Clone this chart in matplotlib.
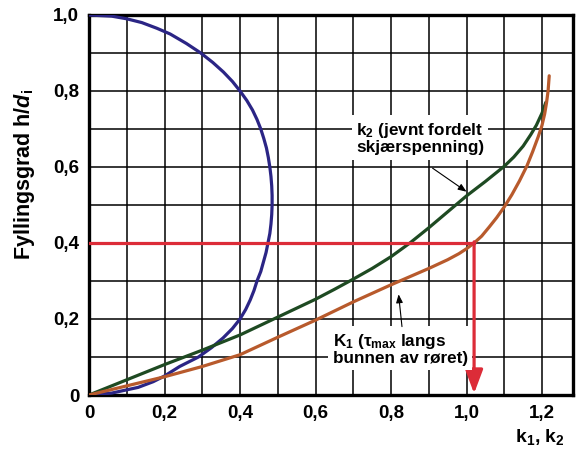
import matplotlib
matplotlib.use('Agg')
import matplotlib.pyplot as plt
from matplotlib.ticker import FuncFormatter, MultipleLocator

plt.rcParams['font.family'] = ['Liberation Sans', 'DejaVu Sans']
plt.rcParams['font.weight'] = 'bold'
plt.rcParams['mathtext.fontset'] = 'custom'
plt.rcParams['mathtext.rm'] = 'Liberation Sans:bold'
plt.rcParams['mathtext.it'] = 'Liberation Sans:italic:bold'
plt.rcParams['mathtext.bf'] = 'Liberation Sans:bold'

# blue curve (x, h)
blue_h = [0, 0.005, 0.02, 0.035, 0.05, 0.075, 0.1, 0.125, 0.15, 0.175, 0.2, 0.225, 0.25, 0.275,
          0.3, 0.325, 0.35, 0.375, 0.4, 0.425, 0.45, 0.475, 0.5, 0.525, 0.55, 0.575, 0.6, 0.625,
          0.65, 0.675, 0.7, 0.725, 0.75, 0.775, 0.8, 0.825, 0.85, 0.875, 0.9, 0.925, 0.95, 0.965,
          0.98, 0.99, 0.997, 1.0]
blue_x = [0, 0.06, 0.13, 0.17, 0.2, 0.24, 0.29, 0.325, 0.355, 0.38, 0.40, 0.415, 0.427, 0.437,
          0.445, 0.455, 0.462, 0.469, 0.474, 0.479, 0.482, 0.484, 0.485, 0.485, 0.484, 0.482, 0.479, 0.475,
          0.47, 0.463, 0.455, 0.445, 0.433, 0.418, 0.40, 0.38, 0.356, 0.328, 0.296, 0.258, 0.215, 0.18,
          0.14, 0.10, 0.06, 0]

# k2 (green)
k2_x = [0, 0.1, 0.2, 0.3, 0.4, 0.5, 0.6, 0.65, 0.7, 0.75, 0.8, 0.85, 0.9, 0.95, 1.0, 1.05, 1.1,
        1.125, 1.15, 1.17, 1.185, 1.2, 1.21]
k2_h = [0, 0.04, 0.08, 0.118, 0.158, 0.205, 0.252, 0.278, 0.305, 0.333, 0.364, 0.40, 0.44, 0.482, 0.524,
        0.562, 0.602, 0.626, 0.655, 0.685, 0.71, 0.742, 0.77]

# k1 (brown)
k1_x = [0, 0.1, 0.2, 0.3, 0.4, 0.5, 0.6, 0.7, 0.8, 0.9, 0.95, 0.98, 1.0, 1.02, 1.04, 1.06, 1.08,
        1.1, 1.12, 1.14, 1.16, 1.175, 1.19, 1.2, 1.207, 1.212, 1.216, 1.219]
k1_h = [0, 0.024, 0.048, 0.075, 0.106, 0.152, 0.197, 0.245, 0.29, 0.333, 0.356, 0.372, 0.385, 0.4,
        0.418, 0.442, 0.467, 0.495, 0.527, 0.563, 0.603, 0.64, 0.68, 0.71, 0.74, 0.77, 0.8, 0.84]

h_ref = 0.4
k_ref = 1.02

fig = plt.figure(figsize=(5.78, 4.53), dpi=100)
ax = fig.add_axes([89/578, 1-395/453, (573-89)/578, (395-15)/453])

ax.set_xlim(0, 1.282)
ax.set_ylim(0, 1.0)
ax.xaxis.set_major_locator(MultipleLocator(0.2))
ax.xaxis.set_minor_locator(MultipleLocator(0.1))
ax.yaxis.set_major_locator(MultipleLocator(0.2))
ax.yaxis.set_minor_locator(MultipleLocator(0.1))
ax.grid(True, which='both', color='black', linewidth=1.1)
ax.set_axisbelow(True)

fmt = FuncFormatter(lambda v, p: '0' if abs(v) < 1e-9 else ('%.1f' % v).replace('.', ','))
ax.xaxis.set_major_formatter(fmt)
ax.yaxis.set_major_formatter(fmt)
ax.tick_params(which='both', length=0, labelsize=13.5, pad=7)
for s in ax.spines.values():
    s.set_linewidth(2.4)
    s.set_color('black')

ax.plot(blue_x, blue_h, color='#2b2585', lw=2.3, solid_capstyle='round', zorder=3)
ax.plot(k2_x, k2_h, color='#1e4a22', lw=2.3, solid_capstyle='round', zorder=3)
ax.plot(k1_x, k1_h, color='#b85a2c', lw=2.3, solid_capstyle='round', zorder=3)

ax.plot([0, k_ref], [h_ref, h_ref], color='#dc2c38', lw=2.3, zorder=4)
ax.annotate('', xy=(k_ref, 0.004), xytext=(k_ref, h_ref + 0.003),
            arrowprops=dict(arrowstyle='-|>,head_length=0.8,head_width=0.3', color='#dc2c38',
                            lw=2.3, mutation_scale=18, shrinkA=0, shrinkB=0), zorder=4)

ax.text(0.707, 0.676, 'k$_2$ (jevnt fordelt\nskjærspenning)', fontsize=12.3, fontweight='bold',
        ha='left', va='center', linespacing=1.05,
        bbox=dict(facecolor='white', edgecolor='none', pad=3), zorder=5)
ax.annotate('', xy=(1.0, 0.535), xytext=(0.91, 0.597),
            arrowprops=dict(arrowstyle='-|>,head_length=0.5,head_width=0.2', color='black',
                            lw=0.8, shrinkA=0, shrinkB=0), zorder=6)

ax.text(0.645, 0.121, 'K$_1$ (τ$_{\\mathrm{max}}$ langs\nbunnen av røret)', fontsize=12.3,
        fontweight='bold', ha='left', va='center', linespacing=1.05,
        bbox=dict(facecolor='white', edgecolor='none', pad=3), zorder=5)
ax.annotate('', xy=(0.82, 0.265), xytext=(0.829, 0.18),
            arrowprops=dict(arrowstyle='-|>,head_length=0.5,head_width=0.2', color='black',
                            lw=0.8, shrinkA=0, shrinkB=0), zorder=6)

ax.set_ylabel('Fyllingsgrad h/$d_{\\mathrm{i}}$', fontsize=15.5, fontweight='bold')
ax.yaxis.set_label_coords(-0.107, 0.579)
fig.text(540/578, 1-437/453, 'k$_1$, k$_2$', fontsize=14, fontweight='bold', ha='center', va='center')

fig.savefig('out.png', dpi=100)
